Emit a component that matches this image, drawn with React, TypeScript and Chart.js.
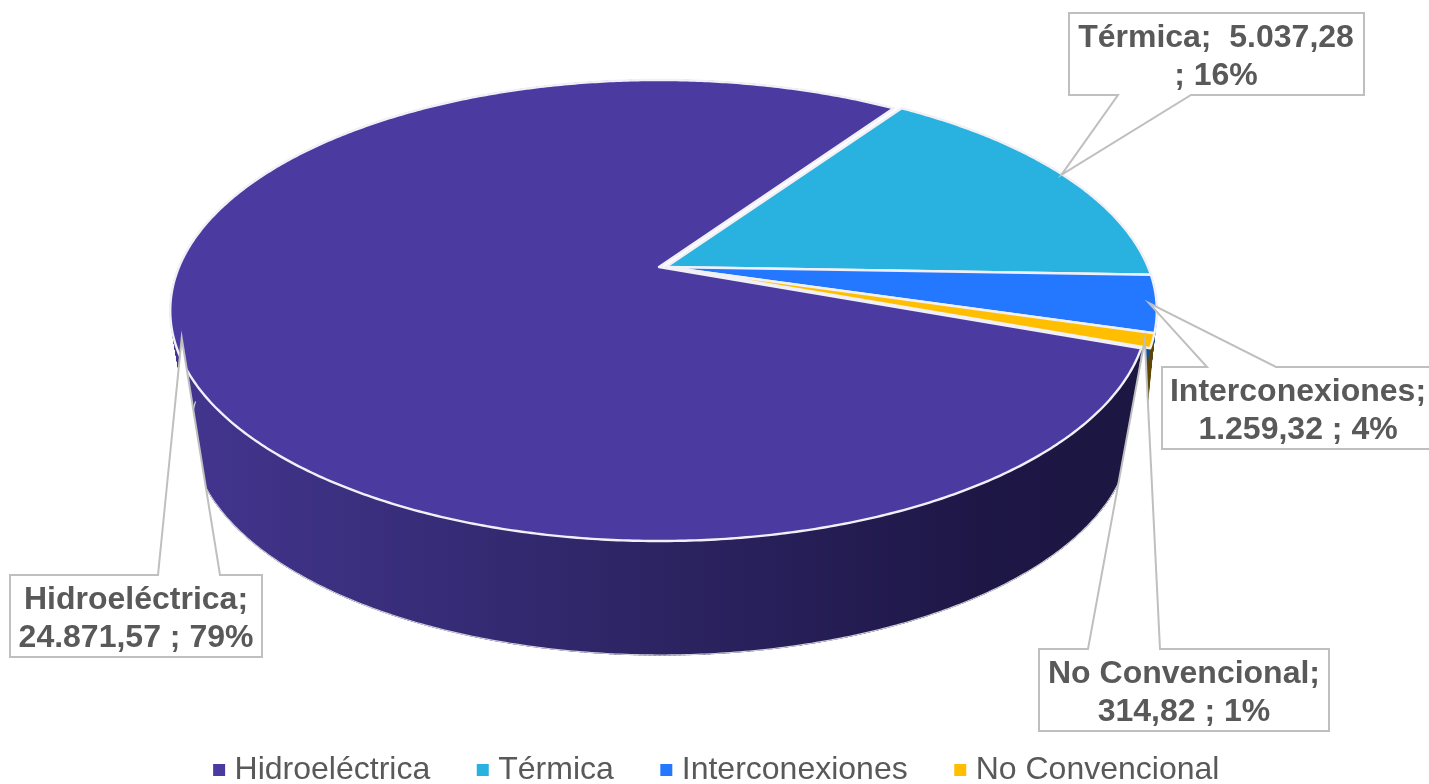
import React, { useEffect, useRef } from "react";
import { Chart, registerables } from "chart.js";

Chart.register(...registerables);

const categories = ["Hidroeléctrica", "Térmica", "Interconexiones", "No Convencional"];
const values = [24871.57, 5037.28, 1259.32, 314.82];
const colors = ["#4B3BA1", "#29B2DF", "#2478FF", "#FFBF00"];
const calloutFirstLines = ["Hidroeléctrica;", "Térmica;  5.037,28", "Interconexiones;", "No Convencional;"];
const calloutSecondLines = ["24.871,57 ; 79%", "; 16%", "1.259,32 ; 4%", "314,82 ; 1%"];

const TEXT = "#595959";
const BORDER = "#BFBFBF";
const FONT = "'Liberation Sans', Arial, sans-serif";

// perspective of the top and bottom faces
const K = 0.1887;
const TOP = { f: 482, g: 222.3, y: 267 };
const TOP_MAIN = { f: 480, g: 222.3, y: 267 };
const TOPS = [TOP_MAIN, TOP, TOP, TOP];
const BOTTOM = { f: 461.5, g: 215, y: 390 };
const SLICE_CX = [659, 666, 666, 666];
const BOTTOM_CX = [661, 668, 672, 675];
const TIP_R = [0.985, 0.997, 0.985, 0.985];

const project = (face: { f: number; g: number; y: number }, cx: number, a: number, r = 1) => {
  const u = Math.cos(a) * r;
  const v = Math.sin(a) * r;
  const w = 1 - K * v;
  return { x: cx + (face.f * u) / w, y: face.y + (face.g * v) / w };
};

const boxes = [
  { x0: 10, x1: 262, top: 575, p0: 158, p1: 220, pSide: "top" },
  { x0: 1069, x1: 1364, top: 13, p0: 1118, p1: 1191, pSide: "bottom" },
  { x0: 1162, x1: 1436, top: 367, p0: 1207, p1: 1276, pSide: "top" },
  { x0: 1039, x1: 1329, top: 649, p0: 1088, p1: 1160, pSide: "top" },
];
const BOX_H = 82;
const TEXT_CX = [136, 1216, 1298, 1184];

const pie3d = {
  id: "pie3d",
  beforeDraw(chart: any) {
    const l = chart.legend;
    const h = l.height;
    l.top = 703;
    l.bottom = l.top + h;
    l.left = 4;
    l.right = chart.width + 4;
  },
  beforeDatasetDraw(chart: any, args: any) {
    const ctx: CanvasRenderingContext2D = chart.ctx;
    const arcs = args.meta.data;
    const span = (i: number) => {
      const p = arcs[i].getProps(["startAngle", "endAngle"], true);
      return [p.startAngle, p.endAngle];
    };
    const step = Math.PI / 360;

    // side walls, sweeping each slice from its top rim to its bottom rim
    const gradient = ctx.createLinearGradient(180, 0, 1120, 0);
    gradient.addColorStop(0, "#43358F");
    gradient.addColorStop(0.45, "#2F2668");
    gradient.addColorStop(0.85, "#1E1746");
    gradient.addColorStop(1, "#1C1642");
    const wallFill: any[] = [gradient, "#17708D", "#164C9F", "#5F4700"];
    const order = [1, 2, 0, 3];
    order.forEach((i) => {
      const [s, e] = span(i);
      ctx.fillStyle = wallFill[i];
      ctx.strokeStyle = wallFill[i];
      ctx.lineWidth = 1;
      for (let a = s; a < e; a += step) {
        const b = Math.min(a + step * 1.5, e);
        const p0 = project(TOPS[i], SLICE_CX[i], a);
        const p1 = project(TOPS[i], SLICE_CX[i], b);
        const q0 = project(BOTTOM, BOTTOM_CX[i], a);
        const q1 = project(BOTTOM, BOTTOM_CX[i], b);
        ctx.beginPath();
        ctx.moveTo(p0.x, p0.y);
        ctx.lineTo(p1.x, p1.y);
        ctx.lineTo(q1.x, q1.y);
        ctx.lineTo(q0.x, q0.y);
        ctx.closePath();
        ctx.fill();
        ctx.stroke();
      }
    });
    // thin light edge along the bottom rim of the main wall
    {
      const [s, e] = span(0);
      ctx.beginPath();
      for (let a = s; a <= e; a += step) {
        const q = project(BOTTOM, BOTTOM_CX[0], a);
        if (Math.sin(a) > 0.05) ctx.lineTo(q.x, q.y);
      }
      ctx.strokeStyle = "#CFCFDC";
      ctx.lineWidth = 1.2;
      ctx.stroke();
    }

    // white gaps left by the separated main slice
    const [hs, he] = span(0);
    const last = arcs.length - 1;
    const hApex = project(TOPS[0], SLICE_CX[0], 0, 0);
    const oApex = project(TOPS[1], SLICE_CX[1], 0, 0);
    [
      [hApex, project(TOPS[0], SLICE_CX[0], he), project(TOPS[1], SLICE_CX[1], span(1)[0]), oApex],
      [hApex, project(TOPS[0], SLICE_CX[0], hs), project(TOPS[last], SLICE_CX[last], span(last)[1]), oApex],
    ].forEach((pts) => {
      ctx.beginPath();
      pts.forEach((p, j) => (j ? ctx.lineTo(p.x, p.y) : ctx.moveTo(p.x, p.y)));
      ctx.closePath();
      ctx.fillStyle = "#FFFFFF";
      ctx.fill();
    });

    // top faces
    arcs.forEach((_: any, i: number) => {
      const [s, e] = span(i);
      const cx = SLICE_CX[i];
      ctx.beginPath();
      const apex = project(TOPS[i], cx, 0, 0);
      ctx.moveTo(apex.x, apex.y);
      for (let a = s; a < e; a += step) {
        const p = project(TOPS[i], cx, a);
        ctx.lineTo(p.x, p.y);
      }
      const end = project(TOPS[i], cx, e);
      ctx.lineTo(end.x, end.y);
      ctx.closePath();
      ctx.fillStyle = colors[i];
      ctx.fill();
      ctx.strokeStyle = "#F1F0F7";
      ctx.lineWidth = 2.4;
      ctx.lineJoin = "round";
      ctx.stroke();
    });

    return false;
  },
  afterDraw(chart: any) {
    const ctx: CanvasRenderingContext2D = chart.ctx;
    const arcs = chart.getDatasetMeta(0).data;
    arcs.forEach((arc: any, i: number) => {
      const p = arc.getProps(["startAngle", "endAngle"], true);
      const tip = project(TOPS[i], SLICE_CX[i], (p.startAngle + p.endAngle) / 2, TIP_R[i]);
      const b = boxes[i];
      const top = b.top;
      const bottom = b.top + BOX_H;
      ctx.beginPath();
      ctx.moveTo(b.x0, top);
      if (b.pSide === "top") {
        ctx.lineTo(b.p0, top);
        ctx.lineTo(tip.x, tip.y);
        ctx.lineTo(b.p1, top);
      }
      ctx.lineTo(b.x1, top);
      ctx.lineTo(b.x1, bottom);
      if (b.pSide === "bottom") {
        ctx.lineTo(b.p1, bottom);
        ctx.lineTo(tip.x, tip.y);
        ctx.lineTo(b.p0, bottom);
      }
      ctx.lineTo(b.x0, bottom);
      ctx.closePath();
      ctx.fillStyle = "#FFFFFF";
      ctx.fill();
      ctx.strokeStyle = BORDER;
      ctx.lineWidth = 2;
      ctx.lineJoin = "miter";
      ctx.stroke();

      ctx.fillStyle = TEXT;
      ctx.font = `bold 32px ${FONT}`;
      ctx.textAlign = "center";
      ctx.textBaseline = "alphabetic";
      ctx.fillText(calloutFirstLines[i], TEXT_CX[i], top + 34);
      ctx.fillText(calloutSecondLines[i], TEXT_CX[i], top + 72);
    });
  },
};

const legendMarker = (color: string) => {
  const c = document.createElement("canvas");
  c.width = 20;
  c.height = 12;
  const g = c.getContext("2d")!;
  g.fillStyle = color;
  g.fillRect(5, 0, 12, 12);
  return c;
};

export default function App() {
  const ref = useRef<HTMLCanvasElement>(null);
  useEffect(() => {
    const chart = new Chart(ref.current!, {
      type: "pie",
      data: {
        labels: categories,
        datasets: [{ data: values, backgroundColor: colors, borderWidth: 0 }],
      },
      plugins: [pie3d],
      options: {
        animation: false,
        responsive: false,
        rotation: 110,
        plugins: {
          title: { display: false },
          tooltip: { enabled: false },
          legend: {
            position: "bottom",
            labels: {
              usePointStyle: true,
              pointStyleWidth: 1,
              boxHeight: 12,
              padding: 51,
              color: TEXT,
              font: { size: 32, family: FONT },
              generateLabels: () =>
                categories.map((text, i) => ({
                  text,
                  fillStyle: colors[i],
                  strokeStyle: colors[i],
                  lineWidth: 0,
                  fontColor: TEXT,
                  pointStyle: legendMarker(colors[i]),
                  hidden: false,
                  index: i,
                })),
            },
          },
        },
      },
    } as any);
    return () => chart.destroy();
  }, []);
  return (
    <canvas
      ref={ref}
      width={1429}
      height={784}
      style={{ position: "absolute", left: 0, top: 0, display: "block", width: 1429, height: 784 }}
    />
  );
}
